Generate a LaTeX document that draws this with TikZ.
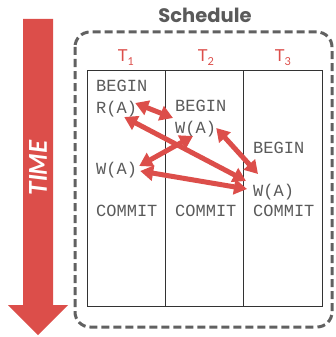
\documentclass[tikz,border=0pt]{standalone}
\usepackage{fontspec}
\usetikzlibrary{arrows.meta,calc}
\newfontfamily\monof{Liberation Mono}
\newfontfamily\headf{Poppins}
\newfontfamily\labf{Lato}
\definecolor{alarmred}{HTML}{DC4E4A}
\definecolor{opgray}{HTML}{5A5A5A}
\definecolor{framegray}{HTML}{616161}
\definecolor{gridline}{HTML}{333333}

\tikzset{
  op/.style={font=\monof\fontsize{17}{17}\selectfont, text=opgray, inner sep=0pt, anchor=base west},
  txn/.style={font=\labf\fontsize{16.5}{16.5}\selectfont, text=alarmred, inner sep=0pt, anchor=base},
  conflict/.style={draw=alarmred, line width=5pt,
    {Triangle[length=13pt,width=15pt]}-{Triangle[length=13pt,width=15pt]}},
}
\newcommand{\txsub}[1]{\raisebox{-4pt}{\fontsize{11}{11}\selectfont #1}}

\begin{document}
\begin{tikzpicture}[x=1pt,y=-1pt]
\useasboundingbox (0,0) rectangle (335,337);

% time arrow
\fill[alarmred] (23,19) -- (53,19) -- (53,305) -- (68,305) -- (38,335) -- (8,305) -- (23,305) -- cycle;
\node[rotate=90, text=white, inner sep=0pt,
      font=\labf\bfseries\itshape\fontsize{24.5}{24.5}\selectfont] (time) at (38,168) {TIME};

% schedule frame
\draw[framegray, line width=3pt, dash pattern=on 8pt off 4pt, rounded corners=15pt]
  (75,32) rectangle (332,327);
\node[font=\headf\bfseries\fontsize{19.5}{19.5}\selectfont, text=opgray, inner sep=0pt] (title) at (205,15) {Schedule};

% table grid
\draw[gridline, line width=0.9pt] (87,70) rectangle (322,306)
  (165,70) -- (165,306) (243,70) -- (243,306);

% transaction headers
\node[txn] (t1) at (126,62) {T\txsub{1}};
\node[txn] (t2) at (206,62) {T\txsub{2}};
\node[txn] (t3) at (283,62) {T\txsub{3}};

% operations
\node[op] (b1) at (96,91)  {BEGIN};
\node[op] (r1) at (96,113) {R(A)};
\node[op] (b2) at (175,111) {BEGIN};
\node[op] (w2) at (175,133) {W(A)};
\node[op] (b3) at (253,153) {BEGIN};
\node[op] (w1) at (96,174) {W(A)};
\node[op] (w3) at (253,196) {W(A)};
\node[op] (c1) at (96,216) {COMMIT};
\node[op] (c2) at (175,216) {COMMIT};
\node[op] (c3) at (253,216) {COMMIT};

% conflicts
\draw[conflict] ($(r1.base east)+(-2,-10)$) -- ($(w2.base west)+(-2,-15)$);
\draw[conflict] ($(r1.base east)+(-13,4)$) -- ($(w3.base west)+(-7,-15)$);
\draw[conflict] ($(w2.base west)+(18,3)$) -- ($(w1.base east)+(2,-8)$);
\draw[conflict] ($(w2.base east)+(0,-5)$) -- ($(w3.base west)+(5,-22)$);
\draw[conflict] ($(w1.base east)+(3,-3)$) -- ($(w3.base west)+(-6,-7)$);
\end{tikzpicture}
\end{document}
